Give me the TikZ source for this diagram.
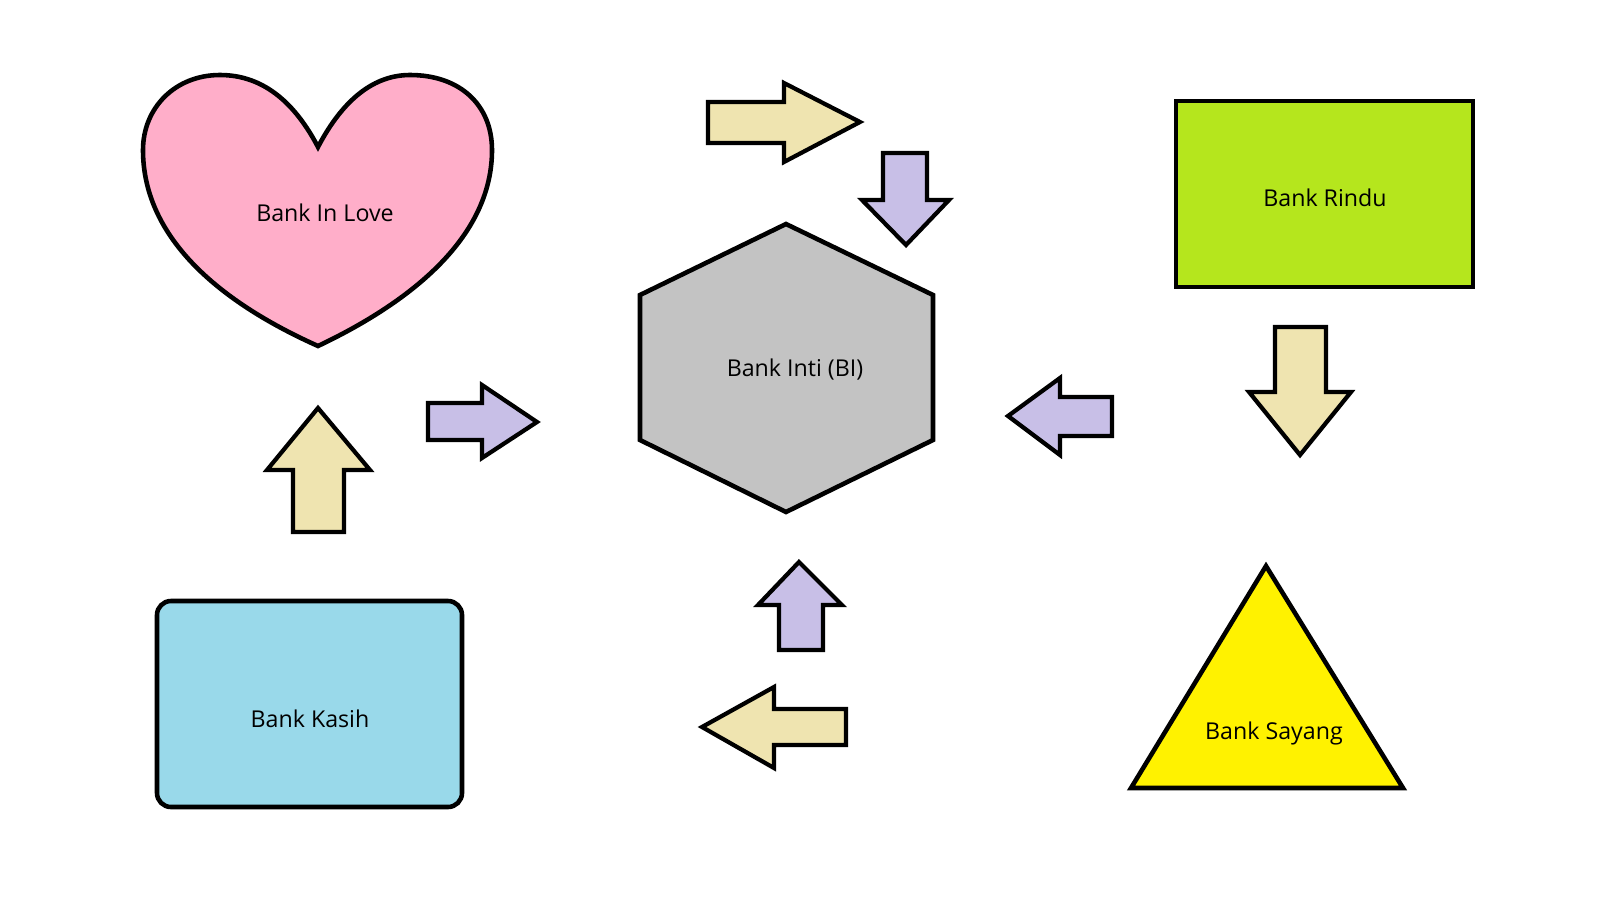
\documentclass[tikz,border=0pt]{standalone}
\usepackage{fontspec}
\setmainfont{Open Sans}
\definecolor{heartpink}{HTML}{FFAEC9}
\definecolor{hexgray}{HTML}{C3C3C3}
\definecolor{rindugreen}{HTML}{B5E61D}
\definecolor{kasihblue}{HTML}{99D9EA}
\definecolor{sayangyellow}{HTML}{FFF200}
\definecolor{arrowyellow}{HTML}{EFE4B0}
\definecolor{arrowpurple}{HTML}{C8BFE7}
\tikzset{
  outline/.style={draw=black, line width=1.3pt},
  yarrow/.style={draw=black, line width=1.2pt, fill=arrowyellow},
  parrow/.style={draw=black, line width=1.2pt, fill=arrowpurple},
  banktext/.style={inner sep=0pt, font=\fontsize{6.6}{8}\selectfont}
}
\begin{document}
\begin{tikzpicture}[x=0.01cm, y=-0.01cm]
        \useasboundingbox (0,0) rectangle (1600,918);

        % Heart (Bank In Love)
        \draw[outline, fill=heartpink] (318,147)
            .. controls (296,105) and (265,75) .. (220,75)
            .. controls (175,75) and (143,108) .. (143,150)
            .. controls (143,235) and (215,300) .. (318,346)
            .. controls (415,300) and (492,235) .. (492,150)
            .. controls (492,105) and (460,75) .. (410,75)
            .. controls (370,75) and (340,105) .. (318,147) -- cycle;
        \node[banktext] (love) at (325,213) {Bank In Love};

        % Hexagon (Bank Inti)
        \draw[outline, fill=hexgray] (786,224) -- (933,295) -- (933,440) -- (786,512) -- (640,440) -- (640,295) -- cycle;
        \node[banktext] (inti) at (795,370) {Bank Inti (BI)};

        % Rectangle (Bank Rindu)
        \draw[outline, fill=rindugreen] (1176,101) rectangle (1473,287);
        \node[banktext] (rindu) at (1325,198) {Bank Rindu};

        % Rounded rectangle (Bank Kasih)
        \draw[outline, fill=kasihblue, rounded corners=0.14cm] (157,601) rectangle (462,807);
        \node[banktext] (kasih) at (310,719) {Bank Kasih};

        % Triangle (Bank Sayang)
        \draw[outline, fill=sayangyellow] (1266,566) -- (1403,788) -- (1131,788) -- cycle;
        \node[banktext] (sayang) at (1274,733) {Bank Sayang};

        % Yellow arrows
        \draw[yarrow] (708,102) -- (784,102) -- (784,83) -- (860,122) -- (784,162) -- (784,143) -- (708,143) -- cycle;
        \draw[yarrow] (1275,327) -- (1326,327) -- (1326,392) -- (1351,392) -- (1300,455) -- (1249,392) -- (1275,392) -- cycle;
        \draw[yarrow] (846,709) -- (774,709) -- (774,687) -- (702,727) -- (774,768) -- (774,745) -- (846,745) -- cycle;
        \draw[yarrow] (293,532) -- (293,470) -- (267,470) -- (318,408) -- (370,470) -- (344,470) -- (344,532) -- cycle;

        % Purple arrows
        \draw[parrow] (883,153) -- (927,153) -- (927,200) -- (949,200) -- (906,245) -- (862,200) -- (883,200) -- cycle;
        \draw[parrow] (1112,397) -- (1060,397) -- (1060,378) -- (1008,416) -- (1060,455) -- (1060,436) -- (1112,436) -- cycle;
        \draw[parrow] (779,650) -- (779,605) -- (758,605) -- (799,562) -- (842,605) -- (823,605) -- (823,650) -- cycle;
        \draw[parrow] (428,403) -- (482,403) -- (482,385) -- (537,422) -- (482,458) -- (482,440) -- (428,440) -- cycle;
    \end{tikzpicture}
\end{document}
